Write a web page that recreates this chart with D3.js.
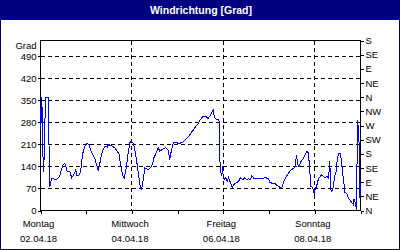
<!DOCTYPE html>
<html>
<head>
<meta charset="utf-8">
<script src="https://cdn.jsdelivr.net/npm/d3@7"></script>
<style>
  body { margin: 0; background: #fff; }
  svg { display: block; }
</style>
</head>
<body>
<svg id="chart" width="400" height="250"></svg>
<script>
// Stunden ab Montag 02.04.18 00:00
var hours = [0, 0.15, 0.7, 1.2, 1.7, 2.4, 2.8, 4.0, 4.2, 4.9, 5.8, 8.4, 10.1, 11.0, 11.9, 12.8, 13.3, 14.0, 15.4, 16.4,
    17.5, 18.5, 19.2, 20.6, 21.5, 22.0, 23.3, 24.1, 25.5, 26.2, 27.3, 28.5, 29.4, 30.3, 31.2, 32.0, 32.9, 33.9, 35.0, 35.7,
    36.8, 37.8, 39.0, 40.3, 41.3, 42.0, 43.1, 43.9, 45.2, 46.0, 46.9, 47.6, 48.7, 49.5, 50.4, 51.3, 52.2, 53.0, 53.9, 54.8,
    55.7, 56.7, 57.8, 58.8, 59.5, 60.6, 61.8, 62.7, 64.4, 65.8, 67.0, 67.9, 68.8, 69.7, 71.4, 72.3, 74.0, 75.3, 76.7, 78.1,
    79.3, 80.5, 81.6, 82.8, 83.7, 84.7, 85.8, 86.8, 87.9, 88.9, 90.0, 90.7, 91.2, 92.1, 93.3, 93.8, 94.2, 94.7, 95.2, 95.6,
    95.9, 96.8, 97.3, 98.0, 98.7, 99.8, 100.7, 101.5, 102.9, 104.0, 105.0, 106.1, 107.3, 108.2, 109.2, 110.3, 111.0, 112.0, 115.2, 118.3,
    119.7, 120.4, 121.8, 123.1, 124.3, 125.7, 126.7, 127.8, 129.2, 130.9, 132.3, 133.6, 134.4, 135.0, 135.3, 135.8, 136.5, 137.6, 138.8, 139.7,
    140.6, 141.4, 141.8, 142.5, 143.2, 143.7, 144.2, 144.9, 145.8, 146.7, 147.6, 148.4, 149.3, 150.2, 151.1, 151.6, 151.9, 152.3, 153.0, 153.7,
    154.4, 155.1, 155.8, 156.5, 157.2, 157.9, 158.6, 159.3, 159.8, 160.7, 161.6, 162.5, 163.3, 164.2, 164.6, 165.3, 165.9, 166.3, 166.6, 167.0,
    167.4, 167.7, 168.0];
var grad = [324, 257, 360, 184, 122, 302, 360, 360, 289, 74, 102, 98, 109, 130, 146, 149, 140, 125, 123, 104,
    114, 128, 109, 114, 141, 178, 204, 213, 210, 194, 178, 167, 146, 128, 151, 178, 194, 204, 201, 210,
    206, 204, 199, 188, 178, 146, 114, 101, 141, 183, 215, 222, 213, 194, 162, 120, 83, 64, 98, 136,
    132, 130, 136, 146, 167, 181, 199, 188, 196, 199, 192, 162, 194, 215, 217, 213, 215, 220, 228, 238,
    249, 257, 268, 276, 287, 295, 300, 300, 291, 300, 312, 319, 298, 291, 289, 284, 157, 120, 109, 141,
    104, 98, 106, 93, 104, 88, 74, 83, 88, 93, 104, 98, 104, 98, 101, 98, 111, 101, 101, 104,
    101, 90, 86, 86, 79, 74, 74, 93, 109, 125, 132, 136, 175, 151, 141, 139, 153, 162, 175, 188,
    183, 130, 75, 76, 67, 51, 67, 76, 98, 107, 114, 109, 104, 109, 104, 130, 157, 67, 61, 75,
    109, 120, 162, 181, 183, 162, 120, 88, 58, 55, 40, 33, 26, 19, 35, 24, 3, 215, 287, 220,
    215, 40, 90];

var gradTicks = [0, 70, 140, 210, 280, 350, 420, 490];
var dirTicks = [0, 45, 90, 135, 180, 225, 270, 315, 360, 405, 450, 495, 540];
var dirLabels = ['N', 'NE', 'E', 'SE', 'S', 'SW', 'W', 'NW', 'N', 'NE', 'E', 'SE', 'S'];
var dayTicks = [0, 24, 48, 72, 96, 120, 144, 168];
var labelHours = [0, 48, 96, 144];
var dayNames = ['Montag', 'Mittwoch', 'Freitag', 'Sonntag'];
var dayDates = ['02.04.18', '04.04.18', '06.04.18', '08.04.18'];

var font = "'Liberation Sans', Arial, sans-serif";
var navy = '#000080';

var svg = d3.select('#chart');

var x = d3.scaleLinear().domain([0, 168]).range([40.5, 360.5]);
var y = d3.scaleLinear().domain([0, 540]).range([210.5, 40.5]);

// Rahmen und Titelleiste
svg.append('rect').attr('x', 0).attr('y', 0).attr('width', 400).attr('height', 250).style('fill', '#fff');
svg.append('rect').attr('x', 0).attr('y', 0).attr('width', 400).attr('height', 20).style('fill', navy);
svg.append('rect').attr('x', 0.5).attr('y', 0.5).attr('width', 399).attr('height', 249)
    .style('fill', 'none').style('stroke', navy);
svg.append('text')
    .attr('x', 201).attr('y', 13.5)
    .attr('text-anchor', 'middle')
    .style('font-family', font).style('font-size', '10.5px').style('font-weight', 'bold')
    .style('fill', '#fff')
    .text('Windrichtung [Grad]');

// Gitter
var grid = svg.append('g').style('stroke', '#000').style('stroke-dasharray', '4,3')
    .attr('shape-rendering', 'crispEdges');
grid.selectAll('line.h')
    .data(gradTicks.slice(1))
    .enter().append('line').attr('class', 'h')
    .attr('x1', x(0)).attr('x2', x(168))
    .attr('y1', function (d) { return Math.round(y(d) - 0.5) + 0.5; })
    .attr('y2', function (d) { return Math.round(y(d) - 0.5) + 0.5; });
grid.selectAll('line.v')
    .data(labelHours.slice(1))
    .enter().append('line').attr('class', 'v')
    .attr('x1', function (d) { return Math.round(x(d) - 0.5) + 0.5; })
    .attr('x2', function (d) { return Math.round(x(d) - 0.5) + 0.5; })
    .attr('y1', y(540)).attr('y2', y(0));

// Achsen
function styleAxis(g) {
    g.select('.domain').remove();
    g.selectAll('line').attr('shape-rendering', 'crispEdges').style('stroke', '#000');
    g.selectAll('text').style('font-family', font).style('font-size', '9.5px').style('fill', '#000');
}

svg.append('g')
    .attr('transform', 'translate(' + x(0) + ',0)')
    .call(d3.axisLeft(y).tickValues(gradTicks).tickSize(3).tickPadding(1))
    .call(styleAxis);

svg.append('g')
    .attr('transform', 'translate(' + x(168) + ',0)')
    .call(d3.axisRight(y).tickValues(dirTicks).tickSize(3).tickPadding(2)
        .tickFormat(function (d, i) { return dirLabels[i]; }))
    .call(styleAxis);

svg.append('g')
    .attr('transform', 'translate(0,' + y(0) + ')')
    .call(d3.axisBottom(x).tickValues(dayTicks).tickSize(3).tickFormat(''))
    .call(styleAxis);

// Einheit über der linken Achse
svg.append('text')
    .attr('x', 36.5).attr('y', y(540) + 8)
    .attr('text-anchor', 'end')
    .style('font-family', font).style('font-size', '9.5px')
    .text('Grad');

// Tagesbeschriftung
var dayLabels = svg.selectAll('g.day')
    .data(labelHours)
    .enter().append('g').attr('class', 'day')
    .attr('transform', function (d) { return 'translate(' + (x(d) - 2) + ',0)'; });
dayLabels.append('text')
    .attr('y', 226.5)
    .attr('text-anchor', 'middle')
    .style('font-family', font).style('font-size', '9.5px')
    .text(function (d, i) { return dayNames[i]; });
dayLabels.append('text')
    .attr('y', 242)
    .attr('text-anchor', 'middle')
    .style('font-family', font).style('font-size', '9.5px')
    .text(function (d, i) { return dayDates[i]; });

// Rahmen Plotbereich
svg.append('rect')
    .attr('x', x(0)).attr('y', y(540))
    .attr('width', x(168) - x(0)).attr('height', y(0) - y(540))
    .style('fill', 'none').style('stroke', '#000')
    .attr('shape-rendering', 'crispEdges');

// Messkurve
var line = d3.line()
    .x(function (d, i) { return x(hours[i]); })
    .y(function (d) { return y(d); });

svg.append('path')
    .datum(grad)
    .attr('d', line)
    .attr('shape-rendering', 'crispEdges')
    .style('fill', 'none')
    .style('stroke', '#0000ff')
    .style('stroke-width', 1);
</script>
</body>
</html>
